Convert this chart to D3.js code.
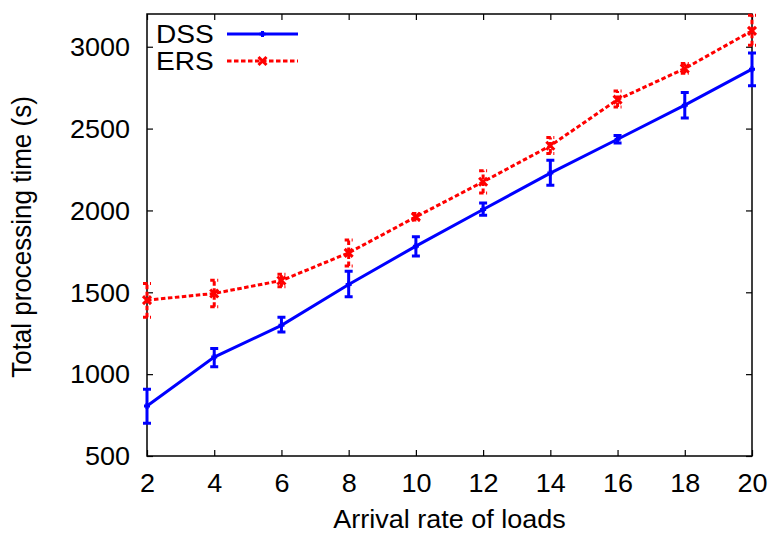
<!DOCTYPE html>
<html>
<head>
<meta charset="utf-8">
<script src="https://cdn.jsdelivr.net/npm/d3@7"></script>
<style>
  html, body { margin: 0; padding: 0; background: #fff; }
  text { font-family: "Liberation Sans", Arial, Helvetica, sans-serif; fill: #000; }
</style>
</head>
<body>
<svg id="chart" width="772" height="534"></svg>
<script>
// Arrival rate of loads (x values)
const arrivalRates = [2, 4, 6, 8, 10, 12, 14, 16, 18, 20];

// DSS: mean total processing time with error bar limits (s)
const dssMean = [805, 1104, 1298, 1548, 1782, 2006, 2228, 2435, 2643, 2863];
const dssLow  = [700, 1045, 1257, 1473, 1721, 1970, 2154, 2412, 2565, 2761];
const dssHigh = [907, 1157, 1347, 1628, 1839, 2045, 2307, 2458, 2720, 2962];

// ERS: mean total processing time with error bar limits (s)
const ersMean = [1452, 1493, 1572, 1741, 1961, 2175, 2395, 2677, 2867, 3097];
const ersLow  = [1347, 1411, 1534, 1660, 1942, 2107, 2348, 2632, 2838, 3009];
const ersHigh = [1554, 1574, 1611, 1819, 1982, 2242, 2446, 2730, 2897, 3192];

const xTicks = [2, 4, 6, 8, 10, 12, 14, 16, 18, 20];
const yTicks = [500, 1000, 1500, 2000, 2500, 3000];

const seriesNames = ["DSS", "ERS"];
const seriesColors = ["#0000ff", "#ff0000"];

const svg = d3.select("#chart");
const margin = { left: 147, right: 20, top: 14, bottom: 78 };
const W = 772, H = 534;

const x = d3.scaleLinear().domain([2, 20]).range([margin.left, W - margin.right]);
const y = d3.scaleLinear().domain([500, 3200]).range([H - margin.bottom, margin.top]);

const fontSize = 25;
const stretch = 1.08;   // glyphs drawn slightly wide

// Axes: ticks point inward, mirrored on top and right
const tickLen = 6;
const gx = svg.append("g").attr("transform", `translate(0,${y.range()[0]})`)
  .call(d3.axisBottom(x).tickValues(xTicks).tickSize(-tickLen).tickPadding(0).tickFormat(d3.format("d")));
const gxTop = svg.append("g").attr("transform", `translate(0,${y.range()[1]})`)
  .call(d3.axisTop(x).tickValues(xTicks).tickSize(-tickLen).tickFormat(""));
const gy = svg.append("g").attr("transform", `translate(${x.range()[0]},0)`)
  .call(d3.axisLeft(y).tickValues(yTicks).tickSize(-tickLen).tickPadding(0).tickFormat(d3.format("d")));
const gyR = svg.append("g").attr("transform", `translate(${x.range()[1]},0)`)
  .call(d3.axisRight(y).tickValues(yTicks).tickSize(-tickLen).tickFormat(""));

[gx, gxTop, gy, gyR].forEach(g => {
  g.select(".domain").remove();
  g.selectAll(".tick line").attr("stroke", "#000").attr("stroke-width", 1.2);
});

gx.selectAll(".tick text")
  .attr("font-size", fontSize).attr("y", 0).attr("dy", 0)
  .attr("transform", `translate(0,36) scale(${stretch},1)`)
  .attr("font-family", "Liberation Sans, Arial, sans-serif");
gy.selectAll(".tick text")
  .attr("font-size", fontSize).attr("x", 0).attr("dy", "0.35em")
  .attr("text-anchor", "end")
  .attr("transform", `translate(-17,0) scale(${stretch},1)`)
  .attr("font-family", "Liberation Sans, Arial, sans-serif");

// Plot frame
svg.append("rect")
  .attr("x", x.range()[0]).attr("y", y.range()[1])
  .attr("width", x.range()[1] - x.range()[0])
  .attr("height", y.range()[0] - y.range()[1])
  .attr("fill", "none").attr("stroke", "#000").attr("stroke-width", 1.5);

// Axis titles
svg.append("text")
  .attr("transform", `translate(${(x.range()[0] + x.range()[1]) / 2},528) scale(${stretch},1)`)
  .attr("text-anchor", "middle").attr("font-size", fontSize)
  .text("Arrival rate of loads");
svg.append("text")
  .attr("transform", `translate(31,${(y.range()[0] + y.range()[1]) / 2 + 2}) scale(${stretch},1) rotate(-90)`)
  .attr("text-anchor", "middle").attr("font-size", fontSize + 1)
  .text("Total processing time (s)");

// Series
const series = [
  { name: seriesNames[0], color: seriesColors[0], mean: dssMean, low: dssLow, high: dssHigh, dash: null, marker: "plus" },
  { name: seriesNames[1], color: seriesColors[1], mean: ersMean, low: ersLow, high: ersHigh, dash: "4.5,2.5", marker: "cross" }
];

const line = d3.line().x(d => x(d[0])).y(d => y(d[1]));
const plot = svg.append("g");

function drawMarker(g, cx, cy, kind, color) {
  if (kind === "plus") {
    g.append("path").attr("d", `M${cx - 3},${cy}H${cx + 3}M${cx},${cy - 3}V${cy + 3}`)
      .attr("stroke", color).attr("stroke-width", 3).attr("fill", "none");
  } else {
    g.append("path").attr("d", `M${cx - 4},${cy - 4}L${cx + 4},${cy + 4}M${cx - 4},${cy + 4}L${cx + 4},${cy - 4}`)
      .attr("stroke", color).attr("stroke-width", 3).attr("fill", "none");
  }
}

series.forEach(s => {
  const g = plot.append("g");
  const pts = arrivalRates.map((r, i) => [r, s.mean[i]]);
  g.append("path").datum(pts).attr("d", line)
    .attr("fill", "none").attr("stroke", s.color).attr("stroke-width", 3)
    .attr("stroke-dasharray", s.dash);
  // error bars
  arrivalRates.forEach((r, i) => {
    const cx = x(r);
    const capHalf = 4;
    g.append("path")
      .attr("d", `M${cx},${y(s.low[i])}V${y(s.high[i])}` +
                 `M${cx - capHalf},${y(s.low[i])}H${cx + capHalf}` +
                 `M${cx - capHalf},${y(s.high[i])}H${cx + capHalf}`)
      .attr("fill", "none").attr("stroke", s.color).attr("stroke-width", 3)
      .attr("stroke-dasharray", s.dash);
    drawMarker(g, cx, y(s.mean[i]), s.marker, s.color);
  });
});

// Legend
const legendRows = [34, 61];
series.forEach((s, i) => {
  const ly = legendRows[i];
  svg.append("text")
    .attr("transform", `translate(156,${ly}) scale(${stretch},1)`)
    .attr("dy", "0.35em").attr("font-size", fontSize + 1)
    .text(s.name);
  svg.append("line")
    .attr("x1", 227).attr("x2", 298).attr("y1", ly).attr("y2", ly)
    .attr("stroke", s.color).attr("stroke-width", 3)
    .attr("stroke-dasharray", s.dash);
  drawMarker(svg.append("g"), 262.5, ly, s.marker, s.color);
});
</script>
</body>
</html>
